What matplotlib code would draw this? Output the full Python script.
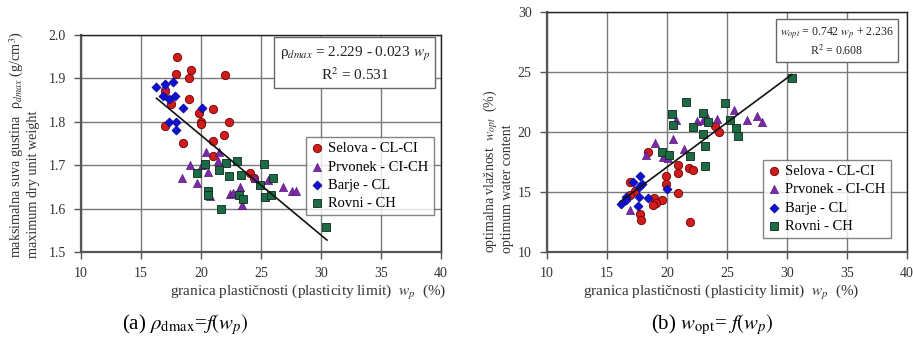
import matplotlib
matplotlib.use('Agg')
import matplotlib.pyplot as plt
import numpy as np

plt.rcParams['font.family'] = ['Liberation Serif', 'DejaVu Serif']
plt.rcParams['mathtext.fontset'] = 'stix'

# ---- data ----
# (a) rho_dmax vs w_p
sel_wp_a = [17.97, 19.2, 17.9, 19.0, 22.0, 17.0, 19.0, 17.5, 21.0, 19.8, 20.0, 20.0, 22.3, 17.0, 21.9, 18.5, 21.0, 21.0, 24.1, 24.4]
sel_rho = [1.95, 1.92, 1.91, 1.90, 1.908, 1.87, 1.852, 1.84, 1.83, 1.82, 1.80, 1.795, 1.80, 1.79, 1.77, 1.752, 1.756, 1.721, 1.681, 1.67]
prv_wp_a = [17.0, 20.4, 21.5, 21.4, 19.1, 20.1, 20.6, 18.4, 19.7, 20.75, 22.4, 22.7, 23.4, 23.25, 24.5, 25.6, 26.8, 27.6, 27.9]
prv_rho = [1.884, 1.73, 1.73, 1.71, 1.70, 1.70, 1.684, 1.67, 1.658, 1.63, 1.633, 1.635, 1.608, 1.65, 1.67, 1.666, 1.65, 1.641, 1.641]
bar_wp_a = [16.25, 17.0, 17.7, 16.8, 17.3, 17.8, 18.5, 20.1, 17.3, 17.9, 17.9]
bar_rho = [1.88, 1.886, 1.891, 1.86, 1.853, 1.86, 1.831, 1.831, 1.80, 1.80, 1.78]
rov_wp_a = [20.3, 22.05, 23.0, 25.25, 19.7, 21.5, 22.3, 23.3, 24.9, 26.0, 20.6, 20.6, 23.2, 23.5, 25.3, 25.8, 21.7, 30.4]
rov_rho = [1.703, 1.704, 1.71, 1.703, 1.683, 1.69, 1.675, 1.677, 1.654, 1.67, 1.641, 1.631, 1.631, 1.621, 1.626, 1.631, 1.60, 1.558]

# (b) w_opt vs w_p
sel_wp_b = [24.0, 24.3, 18.4, 20.9, 20.9, 21.8, 22.2, 19.9, 19.9, 20.9, 18.9, 19.6, 19.1, 18.8, 21.9, 16.9, 17.3, 16.9, 17.75, 17.8]
sel_wopt = [20.5, 20.0, 18.36, 17.25, 16.6, 17.0, 16.8, 16.3, 15.7, 14.9, 14.5, 14.3, 14.05, 13.9, 12.5, 15.8, 15.1, 14.75, 13.2, 12.7]
prv_wp_b = [25.6, 26.7, 27.5, 27.9, 24.2, 23.2, 22.5, 23.0, 20.75, 20.5, 19.0, 21.4, 18.25, 19.7, 20.1, 16.9]
prv_wopt = [21.8, 21.0, 21.3, 20.8, 21.1, 21.55, 20.9, 21.0, 21.0, 19.4, 19.06, 18.55, 18.1, 17.9, 17.8, 13.5]
bar_wp_b = [17.75, 17.2, 17.9, 17.7, 20.0, 16.6, 16.2, 17.7, 18.4, 17.6, 16.6]
bar_wopt = [16.3, 15.8, 15.7, 15.4, 15.25, 14.6, 14.0, 14.55, 14.5, 13.8, 14.3]
rov_wp_b = [30.45, 21.6, 24.8, 20.4, 23.0, 20.5, 22.2, 23.4, 25.25, 25.75, 25.9, 22.97, 23.2, 19.6, 20.2, 21.9, 23.2]
rov_wopt = [24.47, 22.5, 22.4, 21.5, 21.55, 20.6, 20.4, 20.8, 21.0, 20.3, 19.7, 19.8, 18.8, 18.3, 18.1, 18.0, 17.2]

# regression lines (coefficients from the chart, x range of the drawn line)
fit_a = (2.229, -0.023)
fit_a_x = [16.3, 30.5]
fit_b = (2.236, 0.742)
fit_b_x = [16.1, 30.4]

labels = ['Selova - CL-CI', 'Prvonek - CI-CH', 'Barje - CL', 'Rovni - CH']
styles = [
    dict(marker='o', s=36, c='#d01c1c', edgecolors='#700000', linewidths=0.6),
    dict(marker='^', s=36, c='#7a2aa6', edgecolors='#4a1070', linewidths=0.4),
    dict(marker='D', s=22, c='#1010d0', edgecolors='#000080', linewidths=0.4),
    dict(marker='s', s=34, c='#1d6b45', edgecolors='#0a2a18', linewidths=0.6),
]

fig = plt.figure(figsize=(9.13, 3.41), dpi=100)
ax1 = fig.add_axes([0.0887, 0.261, 0.3943, 0.6364])
ax2 = fig.add_axes([0.5991, 0.261, 0.3943, 0.7038])


def style_axes(ax, ylim, yticks, yfmt):
    ax.set_xlim(10, 40)
    ax.set_ylim(*ylim)
    ax.set_xticks(np.arange(10, 41, 5))
    ax.set_yticks(yticks)
    ax.set_yticklabels([yfmt.format(v) for v in yticks])
    ax.grid(True, color='#7a7a7a', linewidth=1.0)
    ax.set_axisbelow(True)
    ax.tick_params(direction='out', length=5, width=1, color='#555555',
                   labelsize=10, labelcolor='#333333', pad=6)
    for side in ['left', 'bottom']:
        ax.spines[side].set_color('#555555')
        ax.spines[side].set_linewidth(1.6)
    for side in ['top', 'right']:
        ax.spines[side].set_color('#222222')
        ax.spines[side].set_linewidth(1.0)


style_axes(ax1, (1.5, 2.0), [1.5, 1.6, 1.7, 1.8, 1.9, 2.0], '{:.1f}')
style_axes(ax2, (10, 30), [10, 15, 20, 25, 30], '{:d}')

# (a)
data_a = [(sel_wp_a, sel_rho), (prv_wp_a, prv_rho), (bar_wp_a, bar_rho), (rov_wp_a, rov_rho)]
for (x, y), lab, st in zip(data_a, labels, styles):
    ax1.scatter(x, y, label=lab, zorder=3, **st)
xa = np.array(fit_a_x)
ax1.plot(xa, fit_a[0] + fit_a[1] * xa, color='#111111', linewidth=1.2, zorder=4)

# (b)
data_b = [(sel_wp_b, sel_wopt), (prv_wp_b, prv_wopt), (bar_wp_b, bar_wopt), (rov_wp_b, rov_wopt)]
for (x, y), lab, st in zip(data_b, labels, styles):
    ax2.scatter(x, y, label=lab, zorder=3, **st)
xb = np.array(fit_b_x)
ax2.plot(xb, fit_b[0] + fit_b[1] * xb, color='#111111', linewidth=1.2, zorder=4)

# legends
for ax, anchor in [(ax1, (0.98, 0.53)), (ax2, (0.955, 0.385))]:
    leg = ax.legend(loc='upper right', bbox_to_anchor=anchor, fontsize=10.5,
                    frameon=True, fancybox=False, borderpad=0.35, labelspacing=0.35,
                    handlelength=0.9, handletextpad=0.3, borderaxespad=0)
    leg.get_frame().set_edgecolor('#666666')
    leg.get_frame().set_linewidth(1.0)
    leg.set_zorder(5)

# equation boxes
box = dict(boxstyle='square,pad=0.35', facecolor='white', edgecolor='#666666', linewidth=1.0)
ax1.text(0.761, 0.867, 'ρ$_{dmax}$ = 2.229 - 0.023 $w_p$\nR$^2$ = 0.531',
         transform=ax1.transAxes, ha='center', va='center', fontsize=11,
         multialignment='center', bbox=box, zorder=6, color='#222222')
ax2.text(0.805, 0.876, '$w_{opt}$ = 0.742 $w_p$ + 2.236\nR$^2$ = 0.608',
         transform=ax2.transAxes, ha='center', va='center', fontsize=8.5,
         multialignment='center', bbox=box, zorder=6, color='#222222')

# axis labels
fig.text(0.338, 0.141, 'granica plastičnosti (plasticity limit)  $w_p$  (%)',
         ha='center', va='center', fontsize=11, color='#333333')
fig.text(0.790, 0.141, 'granica plastičnosti (plasticity limit)  $w_p$  (%)',
         ha='center', va='center', fontsize=11, color='#333333')
fig.text(0.026, 0.243, 'maksimalna suva gustina  ρ$_{dmax}$ (g/cm$^3$)\nmaximum dry unit weight',
         rotation=90, ha='center', va='bottom', multialignment='left',
         fontsize=10.2, color='#333333', linespacing=1.05)
fig.text(0.545, 0.258, 'optimalna vlažnost  $w_{opt}$  (%)\noptimum water content',
         rotation=90, ha='center', va='bottom', multialignment='left',
         fontsize=10, color='#333333', linespacing=1.05)

# captions
fig.text(0.203, 0.047, r'(a) $\rho_{\mathrm{dmax}}$=$f(w_p)$', ha='center', va='center', fontsize=15)
fig.text(0.780, 0.047, r'(b) $w_{\mathrm{opt}}$= $f(w_p)$', ha='center', va='center', fontsize=15)

plt.savefig('out.png', dpi=100)
plt.close()
